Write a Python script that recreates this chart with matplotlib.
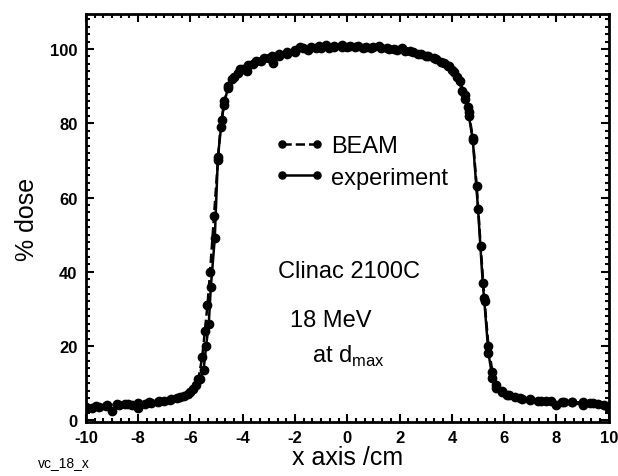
import matplotlib
matplotlib.use('Agg')
import matplotlib.pyplot as plt
from matplotlib.ticker import MultipleLocator, AutoMinorLocator

plt.rcParams['font.family'] = ['Liberation Sans', 'DejaVu Sans']
plt.rcParams['axes.unicode_minus'] = False

# measured profile (experiment)
exp_x = [-10.0, -9.75, -9.5, -9.25, -9.0, -8.75, -8.5, -8.25, -8.0, -7.75, -7.5, -7.25,
         -7.0, -6.75, -6.5, -6.25, -6.0, -5.8, -5.65, -5.5, -5.4, -5.3, -5.22, -5.07,
         -4.95, -4.8, -4.72, -4.57, -4.4, -4.2, -4.0, -3.85, -3.6, -3.3, -3.0, -2.85,
         -2.6, -2.3, -2.0, -1.8, -1.5, -1.2, -1.0, -0.7, -0.5, -0.2, 0.0, 0.3, 0.6, 0.9,
         1.2, 1.5, 1.8, 2.1, 2.4, 2.7, 3.0, 3.3, 3.6, 3.85, 4.0, 4.2, 4.4, 4.5, 4.6,
         4.65, 4.8, 5.0, 5.18, 5.23, 5.4, 5.55, 5.7, 5.9, 6.1, 6.4, 6.7, 7.0, 7.3, 7.6,
         8.0, 8.3, 8.6, 9.0, 9.3, 9.6, 10.0]
exp_y = [3.0, 3.3, 3.6, 3.8, 2.6, 4.2, 4.3, 4.2, 3.4, 4.5, 4.7, 4.9,
         5.2, 5.6, 6.0, 6.6, 7.5, 9.5, 11.0, 13.5, 20.0, 26.0, 36.0, 49.0,
         71.0, 81.0, 85.0, 89.5, 92.0, 93.5, 94.5, 94.0, 96.0, 96.8, 97.5, 96.3,
         98.2, 98.8, 99.2, 100.6, 99.8, 100.2, 100.3, 100.4, 100.5, 100.6, 100.6, 100.5, 100.4, 100.3,
         100.8, 100.2, 100.0, 100.2, 99.5, 98.8, 98.2, 97.5, 96.5, 95.5, 94.3, 92.5, 88.8, 86.5, 84.5,
         82.0, 75.5, 57.0, 37.0, 33.0, 18.0, 11.5, 8.8, 7.5, 6.8, 6.2, 5.8, 5.5, 5.3, 5.1,
         4.0, 5.0, 4.9, 4.0, 4.6, 4.4, 3.0]

# Monte Carlo profile (BEAM)
beam_x = [-10.0, -9.6, -9.2, -8.8, -8.4, -8.0, -7.6, -7.2, -6.8, -6.4, -6.1, -5.9,
          -5.7, -5.55, -5.45, -5.35, -5.25, -5.1, -4.95, -4.85, -4.7, -4.55, -4.35, -4.1,
          -3.8, -3.5, -3.2, -2.9, -2.6, -2.3, -2.0, -1.7, -1.4, -1.1, -0.8, -0.5, -0.2,
          0.1, 0.4, 0.7, 1.0, 1.3, 1.6, 1.9, 2.2, 2.5, 2.8, 3.1, 3.4, 3.7, 3.9, 4.1,
          4.3, 4.5, 4.65, 4.8, 4.95, 5.1, 5.25, 5.4, 5.55, 5.7, 5.9, 6.2, 6.6, 7.0,
          7.4, 7.8, 8.2, 8.6, 9.0, 9.4, 9.8, 10.0]
beam_y = [3.5, 3.8, 4.0, 4.3, 4.5, 4.6, 4.8, 5.1, 5.5, 6.2, 7.2, 8.5,
          11.0, 17.0, 24.0, 31.0, 40.0, 55.0, 70.0, 79.0, 86.0, 90.0, 92.5, 94.5,
          95.8, 96.8, 97.5, 98.2, 98.8, 99.3, 99.8, 100.2, 100.5, 100.8, 101.0, 100.8, 101.0,
          100.9, 100.7, 100.6, 100.5, 100.3, 100.1, 99.8, 99.6, 99.2, 98.6, 98.0, 97.2, 96.2, 95.3, 93.8,
          91.5, 87.5, 83.0, 76.0, 63.0, 47.0, 32.0, 20.0, 13.0, 9.5, 7.8, 6.8, 6.0, 5.6,
          5.3, 5.1, 5.0, 4.9, 4.8, 4.6, 4.1, 3.8]

fig = plt.figure(figsize=(6.18, 4.77), dpi=100)
ax = fig.add_axes([0.139, 0.113, 0.846, 0.856])

ax.plot(beam_x, beam_y, 'k--', marker='o', ms=6, lw=1.8, label='BEAM')
ax.plot(exp_x, exp_y, 'k-', marker='o', ms=6, lw=1.8, label='experiment')

ax.set_xlim(-10, 10)
ax.set_ylim(-0.5, 109.5)
ax.xaxis.set_major_locator(MultipleLocator(2))
ax.xaxis.set_minor_locator(AutoMinorLocator(6))
ax.yaxis.set_major_locator(MultipleLocator(20))
ax.yaxis.set_minor_locator(AutoMinorLocator(10))
ax.tick_params(which='both', direction='in', top=True, right=True, width=1.5)
ax.tick_params(which='major', length=6, labelsize=12, pad=6)
ax.tick_params(which='minor', length=3)
for lab in ax.get_xticklabels() + ax.get_yticklabels():
    lab.set_fontweight('bold')
for s in ax.spines.values():
    s.set_linewidth(2)

ax.set_xlabel('x axis /cm', fontsize=18, labelpad=0)
ax.set_ylabel('% dose', fontsize=18, labelpad=8)

leg = ax.legend(loc='upper left', bbox_to_anchor=(0.32, 0.755), frameon=False,
                numpoints=2, handlelength=2.1, handletextpad=0.3, fontsize=17,
                markerscale=0.85, labelspacing=0.4)

ax.text(-2.66, 40.3, 'Clinac 2100C', fontsize=17, va='center')
ax.text(-2.2, 27, '18 MeV', fontsize=17, va='center')
ax.text(-1.36, 17.5, 'at d$_{\\mathregular{max}}$', fontsize=17, va='center')

fig.text(38 / 618, 1 - 463 / 477, 'vc_18_x', fontsize=10, va='center')

fig.savefig('out.png', dpi=100)
